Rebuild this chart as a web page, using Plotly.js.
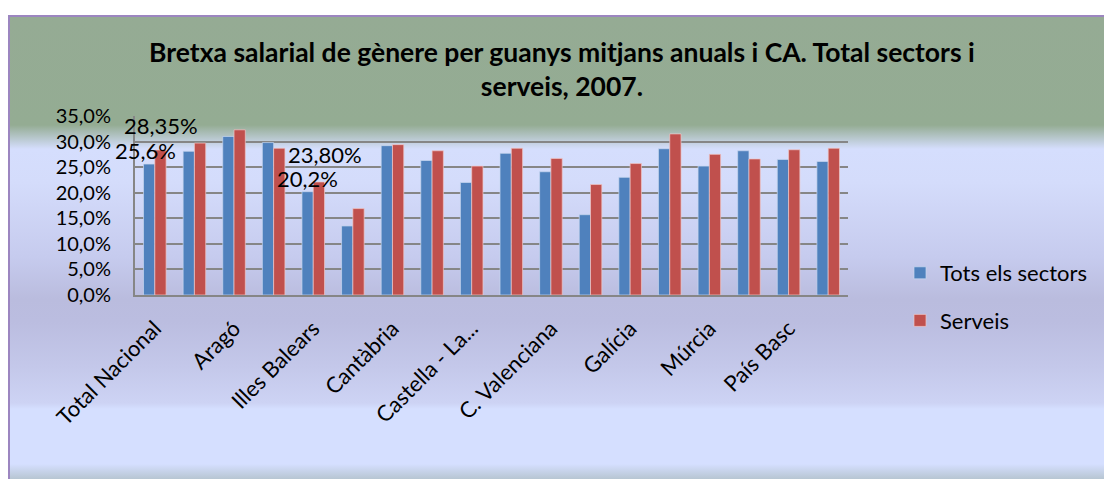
<!DOCTYPE html>
<html>
<head>
<meta charset="utf-8">
<script src="https://cdn.plot.ly/plotly-3.0.1.min.js"></script>
<style>
  body { margin: 0; background: #fff; }
  #wrap { position: relative; width: 1104px; height: 479px; overflow: hidden; }
  /* fons amb degradat, com el gràfic d'Excel */
  #bg {
    position: absolute; left: 8px; top: 15px; width: 1100px; height: 470px;
    border-left: 2px solid #9c86c0; border-top: 2px solid #9c86c0;
    background: linear-gradient(to bottom,
      #95ab94 0px, #94ac93 108px, #d5defd 132px, #d4dcfb 165px,
      #c6cbee 240px, #babcde 282px, #bbbde0 305px, #c4c8ea 350px,
      #cdd3f4 386px, #d5dfff 392px, #d5dfff 447px, #b3c2cc 464px);
  }
  #chart { position: absolute; left: 0; top: 0; width: 1104px; height: 479px; }
</style>
</head>
<body>
<div id="wrap">
  <div id="bg"></div>
  <div id="chart"></div>
</div>
<script>
// comunitats autònomes
const comunitats = [
  'Total Nacional', 'Andalusia', 'Aragó', 'Astúries', 'Illes Balears', 'Canàries',
  'Cantàbria', 'Castella i Lleó', 'Castella - La Manxa', 'Catalunya', 'C. Valenciana',
  'Extremadura', 'Galícia', 'Madrid', 'Múrcia', 'Navarra', 'País Basc', 'La Rioja'
];
// bretxa (%) - tots els sectors
const totsSectors = [25.6, 28.1, 31.0, 29.8, 20.2, 13.5, 29.2, 26.3, 22.0, 27.7,
  24.1, 15.7, 23.0, 28.6, 25.2, 28.2, 26.5, 26.1];
// bretxa (%) - serveis
const serveis = [28.35, 29.7, 32.3, 28.7, 22.1, 16.9, 29.4, 28.2, 25.2, 28.7,
  26.7, 21.6, 25.7, 31.5, 27.5, 26.6, 28.4, 28.7];

// etiquetes visibles de l'eix X (Excel només en mostra una de cada dues)
const etiqX = ['Total Nacional', 'Aragó', 'Illes Balears', 'Cantàbria', 'Castella - La Manxa',
  'C. Valenciana', 'Galícia', 'Múrcia', 'País Basc'];
const textX = ['Total Nacional', 'Aragó', 'Illes Balears', 'Cantàbria', 'Castella - La...',
  'C. Valenciana', 'Galícia', 'Múrcia', 'País Basc'];

const valorsY = [0, 5, 10, 15, 20, 25, 30, 35];
const textY = valorsY.map(v => v.toFixed(1).replace('.', ',') + '%');

const FONT = 'Lato, "Open Sans", sans-serif';

const traces = [
  {
    x: comunitats, y: totsSectors, type: 'bar', name: 'Tots els sectors',
    legendgroup: 'a',
    marker: { color: '#4f81bd', line: { color: 'rgba(200,215,240,0.7)', width: 1 } },
    hoverinfo: 'x+y'
  },
  {
    x: comunitats, y: serveis, type: 'bar', name: 'Serveis',
    legendgroup: 'b',
    marker: { color: '#c0504d', line: { color: 'rgba(240,200,200,0.7)', width: 1 } },
    hoverinfo: 'x+y'
  }
];

// etiquetes de dades escrites a mà al gràfic original
const etiquetes = [
  { x: comunitats[0], y: serveis[0], text: '28,35%', xshift: 6, yshift: 25 },
  { x: comunitats[0], y: totsSectors[0], text: '25,6%', xshift: -9, yshift: 14 },
  { x: comunitats[4], y: serveis[4], text: '23,80%', xshift: 12, yshift: 27 },
  { x: comunitats[4], y: totsSectors[4], text: '20,2%', xshift: -6, yshift: 13 }
].map(e => Object.assign({
  xref: 'x', yref: 'y', showarrow: false, xanchor: 'center', yanchor: 'middle',
  font: { family: FONT, size: 22, color: '#000' }
}, e));

const layout = {
  width: 1104, height: 479,
  margin: { l: 135, r: 256, t: 116, b: 184 },
  paper_bgcolor: 'rgba(0,0,0,0)',
  plot_bgcolor: 'rgba(0,0,0,0)',
  font: { family: FONT, size: 20, color: '#000' },
  title: {
    text: '<b>Bretxa salarial de gènere per guanys mitjans anuals i CA. Total sectors i<br>serveis, 2007.</b>',
    font: { family: FONT, size: 26.5, color: '#000' },
    xref: 'container', x: 0.509, xanchor: 'center',
    yref: 'container', y: 1 - 62 / 479, yanchor: 'top'
  },
  barmode: 'group', bargap: 0.43, bargroupgap: 0,
  xaxis: {
    type: 'category', range: [-0.5, comunitats.length - 0.5], tickangle: -45,
    tickmode: 'array', tickvals: etiqX, ticktext: textX,
    showgrid: false, showline: true, linecolor: '#868686', linewidth: 2,
    ticks: '', ticklabelstandoff: 10,
    tickfont: { family: FONT, size: 22 }, automargin: false
  },
  yaxis: {
    range: [0, 35], tickmode: 'array', tickvals: valorsY, ticktext: textY,
    showgrid: true, gridcolor: '#868686', gridwidth: 2,
    showline: true, linecolor: '#868686', linewidth: 2,
    zeroline: false, ticks: '', ticklabelstandoff: 18,
    tickfont: { family: FONT, size: 20 }, automargin: false
  },
  legend: {
    xref: 'container', yref: 'container',
    x: 900 / 1104, y: 1 - 252 / 479, xanchor: 'left', yanchor: 'top',
    font: { family: FONT, size: 22 }, bgcolor: 'rgba(0,0,0,0)',
    traceorder: 'grouped', tracegroupgap: 16
  },
  annotations: etiquetes
};

Plotly.newPlot('chart', traces, layout, { displayModeBar: false, staticPlot: true });
</script>
</body>
</html>
